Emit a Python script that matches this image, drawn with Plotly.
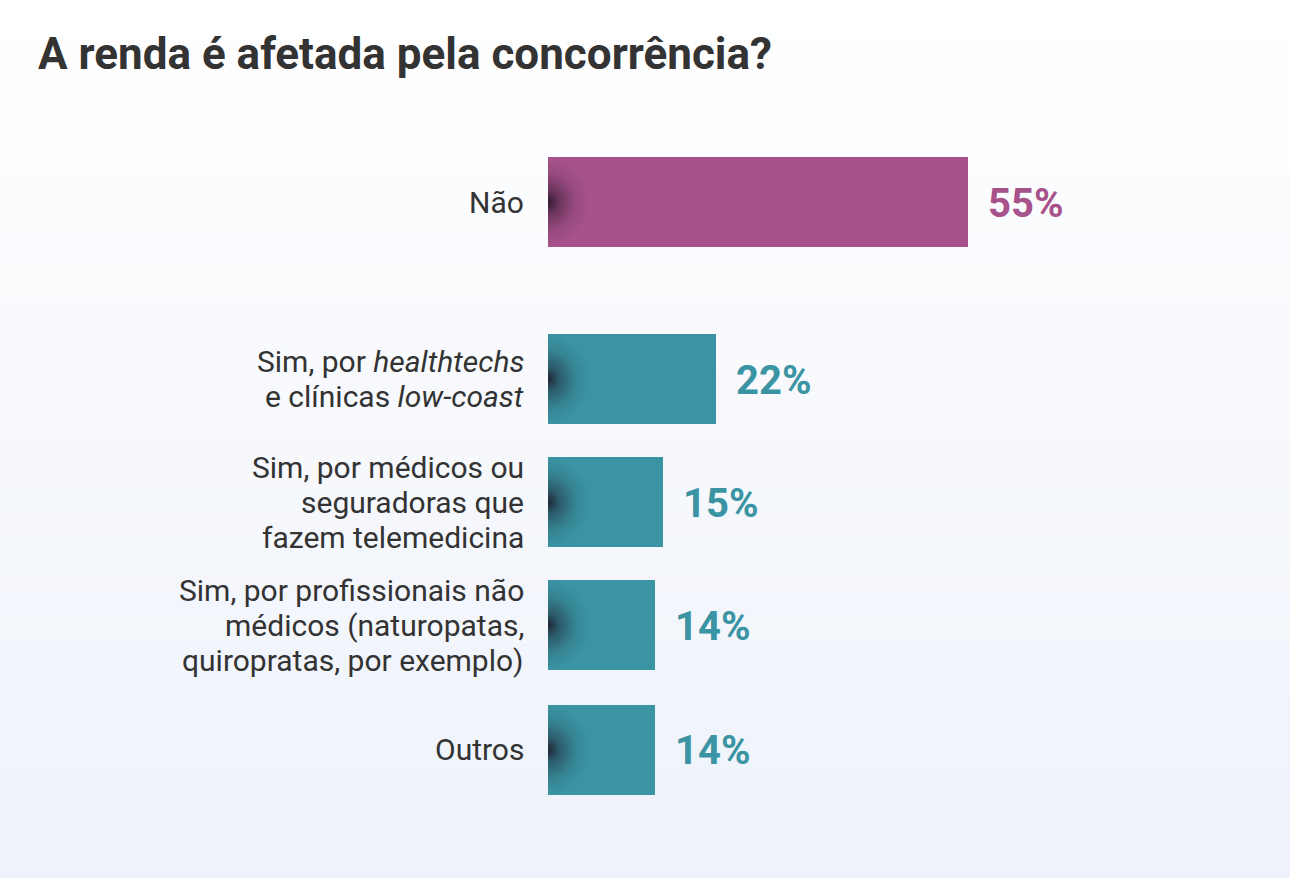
import base64
import plotly.graph_objects as go

# ---- data ----
categories = [
    "Não",
    "Sim, por <i>healthtechs</i><br>e clínicas <i>low-coast</i>",
    "Sim, por médicos ou<br>seguradoras que<br>fazem telemedicina",
    "Sim, por profissionais não<br>médicos (naturopatas,<br>quiropratas, por exemplo)",
    "Outros",
]
values = [55, 22, 15, 14, 14]
value_labels = ["55%", "22%", "15%", "14%", "14%"]

# ---- layout / style ----
y_pos = [0, 1.44, 2.44, 3.44, 4.455]
bar_colors = ["#A8528C", "#3A94A3", "#3A94A3", "#3A94A3", "#3A94A3"]
bar_width = 0.732
W, H = 1290, 878
ML, MR, MT, MB = 548, 90, 100, 50
px_per_unit_x = 420 / 55
x_max = (W - ML - MR) / px_per_unit_x
px_per_unit_y = 123
y_top = -(202 - MT) / px_per_unit_y
y_bot = y_top + (H - MT - MB) / px_per_unit_y
line_gap = 35  # px between label lines

fig = go.Figure()
fig.add_trace(go.Bar(
    x=values, y=y_pos, orientation="h", width=bar_width,
    marker=dict(color=bar_colors, line=dict(width=0)),
    hoverinfo="skip", showlegend=False,
))

# background gradient (bands)
shapes = []
n = 90
top_rgb = (255, 255, 255)
bot_rgb = (238, 242, 250)
x0p = -ML / (W - ML - MR)
x1p = 1 + MR / (W - ML - MR)
ph = H - MT - MB
for i in range(n):
    t = i / (n - 1)
    c = tuple(round(top_rgb[k] + (bot_rgb[k] - top_rgb[k]) * t) for k in range(3))
    y1 = 1 + MT / ph - (H / n) * i / ph
    y0 = 1 + MT / ph - (H / n) * (i + 1) / ph - 0.002
    shapes.append(dict(type="rect", xref="paper", yref="paper", x0=x0p, x1=x1p,
                       y0=y0, y1=y1, fillcolor="rgb(%d,%d,%d)" % c,
                       line=dict(width=0), layer="below"))

# left-edge dark shading on bars
svg = ('<svg xmlns="http://www.w3.org/2000/svg" width="100" height="100" viewBox="0 0 100 100" preserveAspectRatio="none">'
       '<defs><radialGradient id="g" cx="0" cy="0.5" r="0.5">'
       '<stop offset="0" stop-color="#1a1020" stop-opacity="0.85"/>'
       '<stop offset="0.25" stop-color="#1a1020" stop-opacity="0.45"/>'
       '<stop offset="0.65" stop-color="#1a1020" stop-opacity="0.12"/>'
       '<stop offset="1" stop-color="#1a1020" stop-opacity="0"/>'
       '</radialGradient></defs><rect width="100" height="100" fill="url(#g)"/></svg>')
src = "data:image/svg+xml;base64," + base64.b64encode(svg.encode()).decode()
images = []
for yp in y_pos:
    images.append(dict(source=src, xref="x", yref="y", x=0, y=yp - bar_width / 2,
                       sizex=84 / px_per_unit_x, sizey=bar_width,
                       xanchor="left", yanchor="top", sizing="stretch",
                       layer="above", opacity=1))

annotations = []
for v, yp, lab, col in zip(values, y_pos, value_labels, bar_colors):
    annotations.append(dict(x=v, y=yp, xref="x", yref="y", text="<b>%s</b>" % lab,
                            showarrow=False, xanchor="left", yanchor="middle",
                            xshift=18, yshift=-1,
                            font=dict(family="Roboto", size=40, color=col)))

# category labels, one annotation per line (tight line spacing)
for cat, yp in zip(categories, y_pos):
    lines = cat.split("<br>")
    k = len(lines)
    for j, ln in enumerate(lines):
        annotations.append(dict(x=0, y=yp, xref="x", yref="y", text=ln,
                                showarrow=False, xanchor="right", yanchor="middle",
                                xshift=-22, yshift=-(j - (k - 1) / 2) * line_gap,
                                font=dict(family="Roboto", size=30, color="#333333")))

fig.update_layout(
    width=W, height=H,
    margin=dict(l=ML, r=MR, t=MT, b=MB, pad=0),
    paper_bgcolor="#ffffff", plot_bgcolor="rgba(0,0,0,0)",
    title=dict(text="<b>A renda é afetada pela concorrência?</b>",
               x=38 / W, xanchor="left", xref="container",
               y=1 - 54 / H, yanchor="middle", yref="container",
               font=dict(family="Roboto", size=44, color="#333333")),
    xaxis=dict(range=[0, x_max], visible=False, fixedrange=True),
    yaxis=dict(range=[y_bot, y_top], visible=False, fixedrange=True),
    shapes=shapes, images=images, annotations=annotations,
    bargap=0,
)

fig.write_html("out.html", config={"displayModeBar": False},
               post_script="document.body.style.margin='0';document.body.style.overflow='hidden';")
